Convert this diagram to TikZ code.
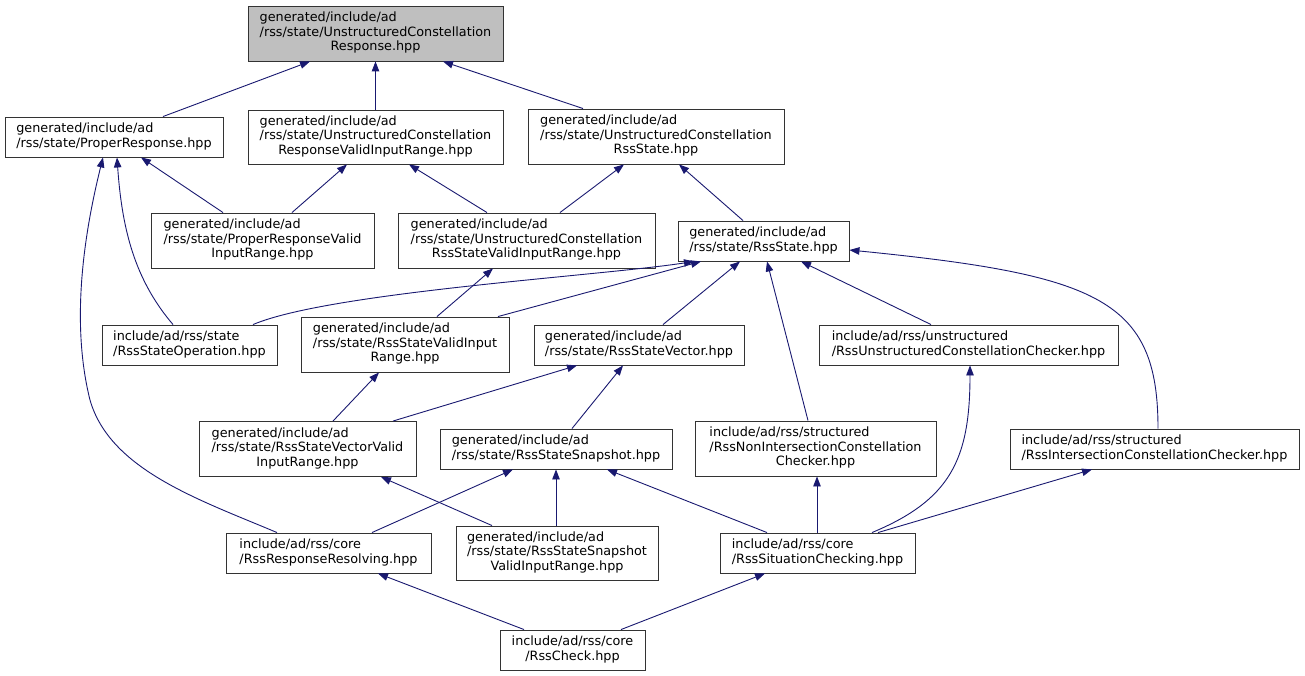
\documentclass[tikz,border=0pt]{standalone}
\usepackage{fontspec}
\setmainfont{DejaVu Sans}
\usetikzlibrary{arrows.meta}
\definecolor{edgeblue}{HTML}{191970}
\definecolor{topfill}{HTML}{BFBFBF}
\newcommand{\labthree}[3]{\begin{tabular}{@{}l@{}}#1\\#2\\\multicolumn{1}{@{}c@{}}{#3}\end{tabular}}
\newcommand{\labtwo}[2]{\begin{tabular}{@{}l@{}}#1\\\multicolumn{1}{@{}c@{}}{#2}\end{tabular}}
\tikzset{
  box/.style={draw=black!80, line width=0.9pt, fill=white, inner sep=0pt,
    font=\fontsize{12.8}{14.5}\selectfont},
  dep/.style={draw=edgeblue, line width=0.9pt, {Triangle[length=10pt,width=7.5pt]}-}
}
\begin{document}
\begin{tikzpicture}[x=1pt,y=-1pt]
\useasboundingbox (0,0) rectangle (1305,676);
% nodes
\node[box, fill=topfill, minimum width=255pt, minimum height=55pt] (top) at (375.5,33.5)
  {\labthree{generated/include/ad}{/rss/state/UnstructuredConstellation}{Response.hpp}};
\node[box, minimum width=218pt, minimum height=40pt] (pr) at (114,137)
  {\labtwo{generated/include/ad}{/rss/state/ProperResponse.hpp}};
\node[box, minimum width=255pt, minimum height=54pt] (ucrvir) at (375.5,137)
  {\labthree{generated/include/ad}{/rss/state/UnstructuredConstellation}{ResponseValidInputRange.hpp}};
\node[box, minimum width=256pt, minimum height=55pt] (ucrs) at (656,136.5)
  {\labthree{generated/include/ad}{/rss/state/UnstructuredConstellation}{RssState.hpp}};
\node[box, minimum width=223pt, minimum height=55pt] (prvir) at (262.5,240.5)
  {\labthree{generated/include/ad}{/rss/state/ProperResponseValid}{InputRange.hpp}};
\node[box, minimum width=257pt, minimum height=55pt] (ucrsvir) at (526.5,240.5)
  {\labthree{generated/include/ad}{/rss/state/UnstructuredConstellation}{RssStateValidInputRange.hpp}};
\node[box, minimum width=171pt, minimum height=40pt] (rs) at (763.5,241)
  {\labtwo{generated/include/ad}{/rss/state/RssState.hpp}};
\node[box, minimum width=175pt, minimum height=40pt] (rso) at (189.5,345)
  {\labtwo{include/ad/rss/state}{/RssStateOperation.hpp}};
\node[box, minimum width=208pt, minimum height=55pt] (rsvir) at (405,344.5)
  {\labthree{generated/include/ad}{/rss/state/RssStateValidInput}{Range.hpp}};
\node[box, minimum width=210pt, minimum height=40pt] (rsv) at (639,345)
  {\labtwo{generated/include/ad}{/rss/state/RssStateVector.hpp}};
\node[box, minimum width=299pt, minimum height=40pt] (rucc) at (968.5,345)
  {\labtwo{include/ad/rss/unstructured}{/RssUnstructuredConstellationChecker.hpp}};
\node[box, minimum width=217pt, minimum height=55pt] (rsvvir) at (307.5,449)
  {\labthree{generated/include/ad}{/rss/state/RssStateVectorValid}{InputRange.hpp}};
\node[box, minimum width=232pt, minimum height=40pt] (rss) at (556,449)
  {\labtwo{generated/include/ad}{/rss/state/RssStateSnapshot.hpp}};
\node[box, minimum width=241pt, minimum height=55pt] (rnicc) at (815.5,448.5)
  {\labthree{include/ad/rss/structured}{/RssNonIntersectionConstellation}{Checker.hpp}};
\node[box, minimum width=289pt, minimum height=40pt] (ricc) at (1154.5,449)
  {\labtwo{include/ad/rss/structured}{/RssIntersectionConstellationChecker.hpp}};
\node[box, minimum width=205pt, minimum height=40pt] (rrr) at (328.5,553)
  {\labtwo{include/ad/rss/core}{/RssResponseResolving.hpp}};
\node[box, minimum width=202pt, minimum height=54pt] (ssvir) at (557,553)
  {\labthree{generated/include/ad}{/rss/state/RssStateSnapshot}{ValidInputRange.hpp}};
\node[box, minimum width=195pt, minimum height=40pt] (rsc) at (817.5,553)
  {\labtwo{include/ad/rss/core}{/RssSituationChecking.hpp}};
\node[box, minimum width=145pt, minimum height=40pt] (rc) at (572.5,650)
  {\labtwo{include/ad/rss/core}{/RssCheck.hpp}};
% connectors
\draw[dep] (top.south -| 310,0) -- (pr.north -| 163,0);
\draw[dep] (top) -- (ucrvir);
\draw[dep] (top.south -| 443,0) -- (ucrs.north -| 583,0);
\draw[dep] (pr.south -| 141,0) -- (prvir.north -| 223,0);
\draw[dep] (pr.south -| 117,0) .. controls (122,230) and (135,280) .. (rso.north -| 173,0);
\draw[dep] (pr.south -| 103,0) .. controls (85,230) and (70,320) .. (90,400)
  .. controls (110,470) and (200,500) .. (rrr.north -| 277,0);
\draw[dep] (ucrvir.south -| 347,0) -- (prvir.north -| 292,0);
\draw[dep] (ucrvir.south -| 409,0) -- (ucrsvir.north -| 487,0);
\draw[dep] (ucrs.south -| 624,0) -- (ucrsvir.north -| 560,0);
\draw[dep] (ucrs.south -| 679,0) -- (rs.north -| 743,0);
\draw[dep] (rs.south -| 694,0) .. controls (600,276) and (330,292) .. (rso.north -| 253,0);
\draw[dep] (rs.south -| 701,0) -- (rsvir.north -| 498,0);
\draw[dep] (rs.south -| 740,0) -- (rsv.north -| 663,0);
\draw[dep] (rs.south -| 767,0) -- (rnicc.north -| 808,0);
\draw[dep] (rs.south -| 801,0) -- (rucc.north -| 931,0);
\draw[dep] (rs.east |- 0,250) .. controls (1100,275) and (1158,300) .. (ricc.north -| 1158,0);
\draw[dep] (ucrsvir.south -| 493,0) -- (rsvir.north -| 437,0);
\draw[dep] (rsvir.south -| 379,0) -- (rsvvir.north -| 333,0);
\draw[dep] (rsv.south -| 577,0) -- (rsvvir.north -| 393,0);
\draw[dep] (rsv.south -| 623,0) -- (rss.north -| 572,0);
\draw[dep] (rsvvir.south -| 381,0) -- (ssvir.north -| 492,0);
\draw[dep] (rss.south -| 513,0) -- (rrr.north -| 372,0);
\draw[dep] (rss.south -| 556,0) -- (ssvir.north -| 556,0);
\draw[dep] (rss.south -| 607,0) -- (rsc.north -| 767,0);
\draw[dep] (rnicc.south -| 817,0) -- (rsc.north -| 817,0);
\draw[dep] (rucc.south -| 970,0) .. controls (970,460) and (950,500) .. (rsc.north -| 872,0);
\draw[dep] (ricc.south -| 1092,0) -- (rsc.north -| 878,0);
\draw[dep] (rrr.south -| 378,0) -- (rc.north -| 524,0);
\draw[dep] (rsc.south -| 765,0) -- (rc.north -| 621,0);
\end{tikzpicture}
\end{document}
